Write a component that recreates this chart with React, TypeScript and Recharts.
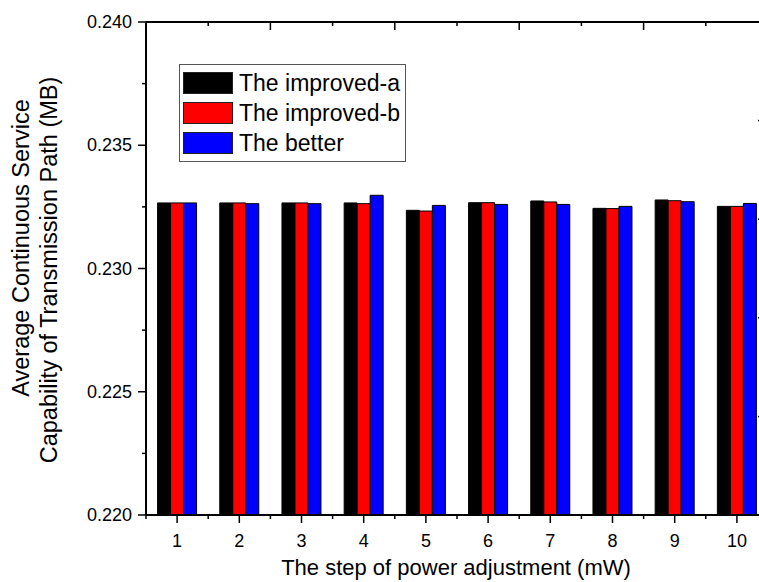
import { Bar, BarChart, Legend, XAxis, YAxis } from "recharts";

const steps = ["1", "2", "3", "4", "5", "6", "7", "8", "9", "10"];
const improvedA = [0.23266, 0.23266, 0.23266, 0.23266, 0.23236, 0.23267, 0.23274, 0.23244, 0.23278, 0.23252];
const improvedB = [0.23266, 0.23266, 0.23266, 0.23263, 0.23233, 0.23267, 0.2327, 0.23243, 0.23275, 0.23252];
const better = [0.23266, 0.23263, 0.23263, 0.23297, 0.23256, 0.2326, 0.2326, 0.23252, 0.23271, 0.23264];

const seriesNames = ["The improved-a", "The improved-b", "The better"];
const seriesColors = ["#000000", "#ff0000", "#0000ff"];

const yMajor = [0.22, 0.225, 0.23, 0.235, 0.24];
const yTicks = [0.22, 0.2225, 0.225, 0.2275, 0.23, 0.2325, 0.235, 0.2375, 0.24];
const rightTicks = [0.22, 0.224, 0.228, 0.232, 0.236, 0.24];
const bottomTicks = [0.5, 1, 1.5, 2, 2.5, 3, 3.5, 4, 4.5, 5, 5.5, 6, 6.5, 7, 7.5, 8, 8.5, 9, 9.5, 10, 10.5];
const topTicks = [1.5, 2.5, 3.5, 4.5, 5.5, 6.5, 7.5, 8.5, 9.5, 10.5];

const data = steps.map((step, i) => ({
  step,
  x: i + 1,
  a: improvedA[i],
  b: improvedB[i],
  c: better[i],
}));

const FONT = "'Liberation Sans', Arial, sans-serif";

const isMajorY = (v: number) => yMajor.some((m) => Math.abs(m - v) < 1e-6);

function LeftTick(props: any) {
  const { x, y, payload } = props;
  const major = isMajorY(payload.value);
  return (
    <g>
      <line x1={x} x2={x - (major ? 8 : 4)} y1={y} y2={y} stroke="#000" strokeWidth={1.5} />
      {major && (
        <text x={x - 14} y={y + 6} textAnchor="end" fontSize={18} fontFamily={FONT} fill="#000">
          {payload.value.toFixed(3)}
        </text>
      )}
    </g>
  );
}

function RightTick(props: any) {
  const { x, y } = props;
  return <line x1={x} x2={x - 10} y1={y} y2={y} stroke="#000" strokeWidth={1.5} />;
}

function BottomTick(props: any) {
  const { x, y, payload } = props;
  const major = Number.isInteger(payload.value);
  return (
    <g>
      <line x1={x} x2={x} y1={y} y2={y + (major ? 8 : 4)} stroke="#000" strokeWidth={1.5} />
      {major && (
        <text x={x} y={y + 32} textAnchor="middle" fontSize={18} fontFamily={FONT} fill="#000">
          {payload.value}
        </text>
      )}
    </g>
  );
}

function TopTick(props: any) {
  const { x, y, payload } = props;
  const long = Math.round(payload.value - 0.5) % 2 === 0;
  return <line x1={x} x2={x} y1={y} y2={y + (long ? 8 : 4)} stroke="#000" strokeWidth={1.5} />;
}

function LegendBox() {
  return (
    <div
      style={{
        border: "1px solid #555",
        padding: "3px 3px",
        background: "#fff",
        fontFamily: FONT,
        fontSize: 23,
        width: 219,
        boxSizing: "content-box",
      }}
    >
      {seriesNames.map((name, i) => (
        <div key={name} style={{ display: "flex", alignItems: "center", height: 30, whiteSpace: "nowrap" }}>
          <span
            style={{
              width: 48,
              height: 20,
              background: seriesColors[i],
              border: "1px solid #222",
              marginRight: 6,
              display: "inline-block",
              flex: "none",
            }}
          />
          <span>{name}</span>
        </div>
      ))}
    </div>
  );
}

export default function App() {
  return (
    <div
      style={{
        position: "absolute",
        left: 0,
        top: 0,
        width: 759,
        height: 582,
        overflow: "hidden",
        background: "#fff",
      }}
    >
      <div style={{ position: "relative", width: 780, height: 582 }}>
        <BarChart
          width={780}
          height={582}
          data={data}
          margin={{ top: 21, right: 11, bottom: 66, left: 145 }}
          barCategoryGap="18.6%"
          barGap={0}
        >
          <XAxis xAxisId="cat" dataKey="step" hide />
          <XAxis
            xAxisId="bot"
            type="number"
            dataKey="x"
            domain={[0.5, 10.5]}
            ticks={bottomTicks}
            interval={0}
            height={1}
            tickSize={0}
            tickMargin={0}
            tickLine={false}
            axisLine={{ stroke: "#000", strokeWidth: 2 }}
            tick={(p: any) => <BottomTick {...p} />}
          />
          <XAxis
            xAxisId="top"
            orientation="top"
            type="number"
            dataKey="x"
            domain={[0.5, 10.5]}
            ticks={topTicks}
            interval={0}
            height={1}
            tickSize={0}
            tickMargin={0}
            tickLine={false}
            axisLine={{ stroke: "#000", strokeWidth: 2 }}
            tick={(p: any) => <TopTick {...p} />}
          />
          <YAxis
            yAxisId="left"
            type="number"
            domain={[0.22, 0.24]}
            ticks={yTicks}
            interval={0}
            width={1}
            tickSize={0}
            tickMargin={0}
            tickLine={false}
            allowDataOverflow
            axisLine={{ stroke: "#000", strokeWidth: 2 }}
            tick={(p: any) => <LeftTick {...p} />}
          />
          <YAxis
            yAxisId="right"
            orientation="right"
            type="number"
            domain={[0.22, 0.24]}
            ticks={rightTicks}
            interval={0}
            width={1}
            tickSize={0}
            tickMargin={0}
            tickLine={false}
            allowDataOverflow
            axisLine={{ stroke: "#000", strokeWidth: 2 }}
            tick={(p: any) => <RightTick {...p} />}
          />
          <Legend
            layout="vertical"
            align="center"
            verticalAlign="middle"
            wrapperStyle={{ left: 179, top: 64, width: 228 }}
            content={() => <LegendBox />}
          />
          <Bar xAxisId="cat" yAxisId="left" dataKey="a" name={seriesNames[0]} fill={seriesColors[0]} stroke="#000" strokeWidth={1} isAnimationActive={false} />
          <Bar xAxisId="cat" yAxisId="left" dataKey="b" name={seriesNames[1]} fill={seriesColors[1]} stroke="#000" strokeWidth={1} isAnimationActive={false} />
          <Bar xAxisId="cat" yAxisId="left" dataKey="c" name={seriesNames[2]} fill={seriesColors[2]} stroke="#000" strokeWidth={1} isAnimationActive={false} />
        </BarChart>
        <svg
          width={780}
          height={582}
          style={{ position: "absolute", left: 0, top: 0, pointerEvents: "none" }}
          fontFamily={FONT}
        >
          <text x={29} y={248} transform="rotate(-90 29 248)" textAnchor="middle" fontSize={23.5} fill="#000">
            Average Continuous Service
          </text>
          <text x={57} y={270} transform="rotate(-90 57 270)" textAnchor="middle" fontSize={23.5} fill="#000">
            Capability of Transmission Path (MB)
          </text>
          <text x={456} y={575} textAnchor="middle" fontSize={22} fill="#000">
            The step of power adjustment (mW)
          </text>
        </svg>
      </div>
    </div>
  );
}
